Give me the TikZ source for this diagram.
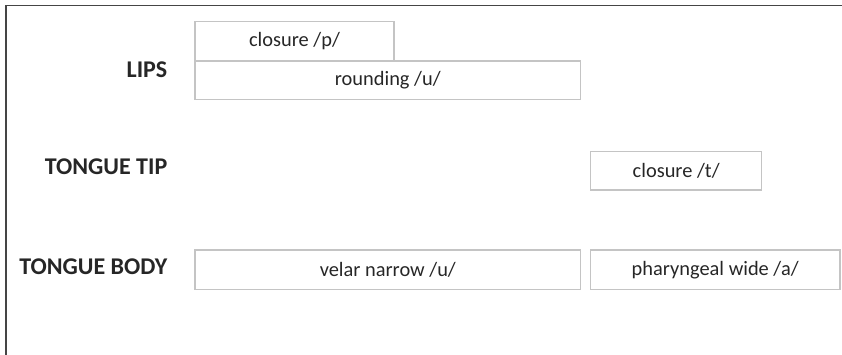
\documentclass[tikz,border=0pt]{standalone}
\usepackage{fontspec}
\setmainfont{Carlito}
\definecolor{boxline}{HTML}{C4C4C4}
\definecolor{frameline}{HTML}{454545}
\definecolor{txt}{HTML}{262626}
\begin{document}
\begin{tikzpicture}[x=1pt,y=-1pt,
  phase/.style={draw=boxline,line width=1.3pt,inner sep=0pt,text=txt,
    font=\fontsize{20.4}{23}\selectfont},
  tier/.style={anchor=east,inner sep=0pt,text=txt,
    font=\fontsize{24}{27}\selectfont\bfseries}]
\useasboundingbox (0,0) rectangle (842,355);
\draw[frameline,line width=1.5pt] (6,355) -- (6,5.5) -- (842,5.5);
\node[phase,minimum width=199pt,minimum height=39.3pt] (clp) at (294.5,41.3) {closure /p/};
\node[phase,minimum width=385.7pt,minimum height=38.3pt] (rnd) at (387.8,80.2) {rounding /u/};
\node[phase,minimum width=171pt,minimum height=38.3pt] (clt) at (676.2,170.8) {closure /t/};
\node[phase,minimum width=385.7pt,minimum height=39.3pt] (vel) at (387.8,269.7) {velar narrow /u/};
\node[phase,minimum width=249.7pt,minimum height=39.3pt] (pha) at (715.2,269.7) {pharyngeal wide /a/};
\node[tier] (lips) at (167.5,69.7) {LIPS};
\node[tier] (tt) at (167.5,167) {TONGUE TIP};
\node[tier] (tb) at (167.5,267) {TONGUE BODY};
\end{tikzpicture}
\end{document}
